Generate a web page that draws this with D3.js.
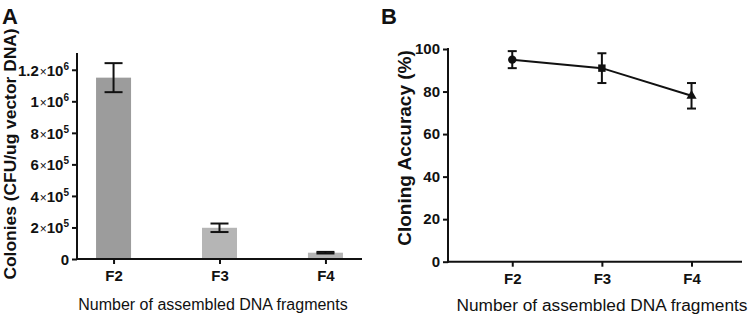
<!DOCTYPE html>
<html><head><meta charset="utf-8">
<script src="https://cdn.jsdelivr.net/npm/d3@7"></script>
<style>
body{margin:0;background:#fff;}
svg{display:block;font-family:Arial,"Liberation Sans",Helvetica,sans-serif;}
</style></head>
<body><svg id="c" width="754" height="319"></svg>
<script>
// Data
const categories = ["F2","F3","F4"];
const colonies = [1150000, 198000, 40000];
const coloniesErr = [92000, 27000, 5000];
const barColors = ["#9c9c9c","#b5b5b5","#b5b5b5"];
const coloniesTicks = [0,200000,400000,600000,800000,1000000,1200000];
const coloniesTickLabels = [["0",null],["2","5"],["4","5"],["6","5"],["8","5"],["1","6"],["1.2","6"]];
const accuracy = [95, 91, 78];
const accuracyErr = [4, 7, 6];
const accuracyTicks = [0,20,40,60,80,100];
const markers = ["circle","square","triangle"];

const svg = d3.select("#c");
const ink = "#111";
const FF = "Arial,'Liberation Sans',sans-serif";

// ---------- Panel A ----------
const xA = d3.scalePoint().domain(categories).range([77,362]).padding(0.345);
const yA = d3.scaleLinear().domain([0,1300000]).range([259,54]);
const gA = svg.append("g");

gA.selectAll("rect.bar").data(categories).join("rect")
  .attr("x", d => xA(d) - 17.5).attr("width", 35)
  .attr("y", (d,i) => yA(colonies[i])).attr("height", (d,i) => yA(0) - yA(colonies[i]))
  .attr("fill", (d,i) => barColors[i]);

categories.forEach((c,i) => {
  const x = xA(c), hi = yA(colonies[i]+coloniesErr[i]), lo = yA(colonies[i]-coloniesErr[i]);
  const cap = 9;
  gA.append("line").attr("x1",x).attr("x2",x).attr("y1",hi).attr("y2",lo).attr("stroke",ink).attr("stroke-width",2);
  gA.append("line").attr("x1",x-cap).attr("x2",x+cap).attr("y1",hi).attr("y2",hi).attr("stroke",ink).attr("stroke-width",2);
  gA.append("line").attr("x1",x-cap).attr("x2",x+cap).attr("y1",lo).attr("y2",lo).attr("stroke",ink).attr("stroke-width",2);
});

const axAy = gA.append("g").attr("transform","translate(77,0)")
  .call(d3.axisLeft(yA).tickValues(coloniesTicks).tickSize(5).tickPadding(3).tickFormat(""));
const axAx = gA.append("g").attr("transform","translate(0,259)")
  .call(d3.axisBottom(xA).tickSize(5).tickPadding(6));
[axAy, axAx].forEach(a => {
  a.select(".domain").attr("stroke",ink).attr("stroke-width",2);
  a.selectAll(".tick line").attr("stroke",ink).attr("stroke-width",2);
});
axAy.select(".domain").attr("d","M0,53V260");
axAx.select(".domain").attr("d","M76,0H362");
axAx.selectAll(".tick text").attr("fill",ink).attr("font-size",15).attr("font-weight","bold").attr("font-family",FF);

axAy.selectAll(".tick").each(function(d,i){
  const lab = coloniesTickLabels[i];
  const t = d3.select(this).append("text").attr("x",-8).attr("y",5.5)
    .attr("text-anchor","end").attr("fill",ink).attr("font-size",15).attr("font-weight","bold")
    .attr("font-family",FF);
  t.append("tspan").text(lab[0]);
  if (lab[1]) {
    t.append("tspan").attr("font-weight","normal").attr("font-size",12).attr("dx",1).text("×");
    t.append("tspan").text("10");
    t.append("tspan").attr("font-size",10).attr("dy",-6).text(lab[1]);
  }
});

gA.append("text").attr("transform","translate(15.5,154) rotate(-90)").attr("text-anchor","middle")
  .attr("font-size",17.4).attr("font-weight","bold").attr("fill",ink).text("Colonies (CFU/ug vector DNA)");
gA.append("text").attr("x",213).attr("y",309.5).attr("text-anchor","middle")
  .attr("font-size",16).attr("fill",ink).text("Number of assembled DNA fragments");
gA.append("text").attr("x",2).attr("y",24).attr("font-size",22).attr("font-weight","bold").attr("fill",ink).text("A");

// ---------- Panel B ----------
const xB = d3.scalePoint().domain(categories).range([448,742]).padding(0.64).align(0.56);
const yB = d3.scaleLinear().domain([0,100]).range([261.7,49]);
const gB = svg.append("g");

const axBy = gB.append("g").attr("transform","translate(448,0)")
  .call(d3.axisLeft(yB).tickValues(accuracyTicks).tickSize(5).tickPadding(3));
const axBx = gB.append("g").attr("transform","translate(0,261.7)")
  .call(d3.axisBottom(xB).tickSize(5).tickPadding(7));
[axBy, axBx].forEach(a => {
  a.select(".domain").attr("stroke",ink).attr("stroke-width",2);
  a.selectAll(".tick line").attr("stroke",ink).attr("stroke-width",2);
  a.selectAll(".tick text").attr("fill",ink).attr("font-size",15).attr("font-weight","bold").attr("font-family",FF);
});
axBy.select(".domain").attr("d","M0,48V262.7");
axBx.select(".domain").attr("d","M447,0H742");

gB.append("path").datum(categories)
  .attr("d", d3.line().x(d => xB(d)).y((d,i) => yB(accuracy[i])))
  .attr("fill","none").attr("stroke",ink).attr("stroke-width",2);

categories.forEach((c,i) => {
  const x = xB(c), hi = yB(accuracy[i]+accuracyErr[i]), lo = yB(accuracy[i]-accuracyErr[i]);
  const cap = 4.5;
  gB.append("line").attr("x1",x).attr("x2",x).attr("y1",hi).attr("y2",lo).attr("stroke",ink).attr("stroke-width",2);
  gB.append("line").attr("x1",x-cap).attr("x2",x+cap).attr("y1",hi).attr("y2",hi).attr("stroke",ink).attr("stroke-width",2);
  gB.append("line").attr("x1",x-cap).attr("x2",x+cap).attr("y1",lo).attr("y2",lo).attr("stroke",ink).attr("stroke-width",2);
});

const symMap = {circle:d3.symbolCircle, square:d3.symbolSquare, triangle:d3.symbolTriangle};
gB.selectAll("path.mk").data(categories).join("path")
  .attr("transform",(d,i) => `translate(${xB(d)},${yB(accuracy[i])})`)
  .attr("d",(d,i) => d3.symbol().type(symMap[markers[i]]).size(markers[i]==="triangle"?45:55)())
  .attr("fill",ink);

gB.append("text").attr("transform","translate(410.5,148) rotate(-90)").attr("text-anchor","middle")
  .attr("font-size",19).attr("font-weight","bold").attr("fill",ink).text("Cloning Accuracy (%)");
gB.append("text").attr("x",602).attr("y",311).attr("text-anchor","middle")
  .attr("font-size",17.3).attr("fill",ink).text("Number of assembled DNA fragments");
gB.append("text").attr("x",381).attr("y",24).attr("font-size",22).attr("font-weight","bold").attr("fill",ink).text("B");
</script></body></html>
